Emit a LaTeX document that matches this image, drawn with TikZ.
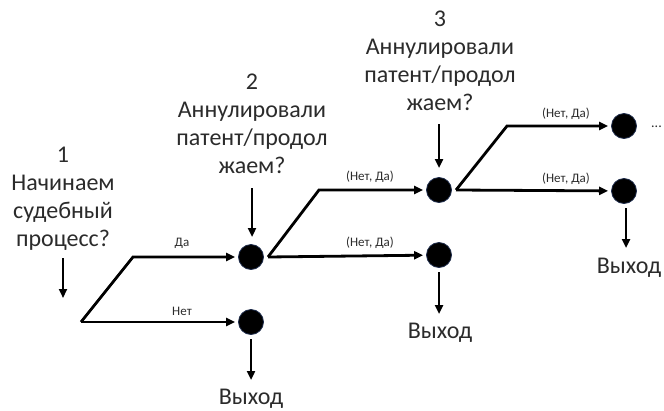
\documentclass[tikz,border=0pt]{standalone}
\usepackage{fontspec}
\setmainfont{Carlito}
\usetikzlibrary{arrows.meta}
\definecolor{txt}{HTML}{2B2B2B}
\definecolor{rim}{HTML}{1F2D4D}
\tikzset{
  decision/.style={circle, fill=black, draw=rim, line width=0.8pt, minimum size=25pt, inner sep=0pt},
  question/.style={align=center, text=txt, font=\fontsize{24}{28}\selectfont, inner sep=0pt},
  branchlabel/.style={text=txt, font=\fontsize{13}{14}\selectfont, inner sep=0pt},
  exitlabel/.style={text=txt, font=\fontsize{24}{28}\selectfont, inner sep=0pt},
  flow/.style={line width=2.8pt, line join=miter, -{Triangle[length=9pt,width=8pt]}},
}
\begin{document}
\begin{tikzpicture}[x=1pt, y=-1pt]
\useasboundingbox (0,0) rectangle (664,410);

% decision points
\node[decision] (b1) at (251,257) {};
\node[decision] (b2) at (251,322) {};
\node[decision] (c1) at (439,190) {};
\node[decision] (c2) at (439,255) {};
\node[decision] (d1) at (624,126) {};
\node[decision] (d2) at (624,191) {};

% branch origins and knees
\coordinate (a)  at (81,322);
\coordinate (ak) at (133,257);
\coordinate (bo) at (268,257);
\coordinate (bk) at (319,190);
\coordinate (co) at (456,190);
\coordinate (ck) at (507,126);

% questions
\node[question, anchor=north] (q1) at (63,147) {1\\Начинаем\\судебный\\процесс?};
\node[question, anchor=north] (q2) at (252,74) {2\\Аннулировали\\патент/продол\\жаем?};
\node[question, anchor=north] (q3) at (440,11) {3\\Аннулировали\\патент/продол\\жаем?};

\coordinate (q1a) at (63,258);  \coordinate (q1b) at (63,298);
\coordinate (q2a) at (252,188); \coordinate (q2b) at (252,237);
\coordinate (q3a) at (439,124); \coordinate (q3b) at (439,168);
\draw[flow] (q1a) -- (q1b);
\draw[flow] (q2a) -- (q2b);
\draw[flow] (q3a) -- (q3b);

% stage 1 branches
\draw[flow, shorten >=3pt] (a) -- (ak) -- (b1);
\draw[flow, shorten >=3pt] (a) -- (b2);
\node[branchlabel] (l1) at (182,243) {Да};
\node[branchlabel] (l2) at (182,311) {Нет};

% stage 2 branches
\draw[flow, shorten >=3pt] (bo) -- (bk) -- (c1);
\draw[flow, shorten >=3pt] (bo) -- (c2);
\node[branchlabel] (l3) at (370,177) {(Нет, Да)};
\node[branchlabel] (l4) at (370,243) {(Нет, Да)};

% stage 3 branches
\draw[flow, shorten >=3pt] (co) -- (ck) -- (d1);
\draw[flow, shorten >=3pt] (co) -- (d2);
\node[branchlabel] (l5) at (566,114) {(Нет, Да)};
\node[branchlabel] (l6) at (566,179) {(Нет, Да)};

% continuation mark
\node[text=txt, font=\fontsize{14}{16}\selectfont, anchor=base west, inner sep=0pt] (more) at (651,127) {...};

% exits
\node[exitlabel] (e1) at (251,399) {Выход};
\node[exitlabel] (e2) at (440,333) {Выход};
\node[exitlabel] (e3) at (629,268) {Выход};
\coordinate (x1a) at (251,339); \coordinate (x1b) at (251,380);
\coordinate (x2a) at (439,272); \coordinate (x2b) at (439,314);
\coordinate (x3a) at (626,208); \coordinate (x3b) at (626,248);
\draw[flow] (x1a) -- (x1b);
\draw[flow] (x2a) -- (x2b);
\draw[flow] (x3a) -- (x3b);
\end{tikzpicture}
\end{document}
